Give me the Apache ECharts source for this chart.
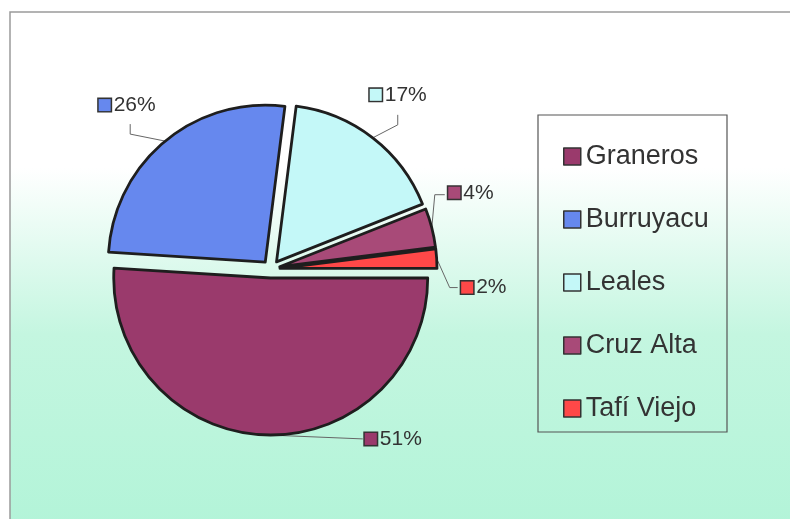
<!DOCTYPE html>
<html>
<head>
<meta charset="utf-8">
<script src="https://cdn.jsdelivr.net/npm/echarts@6/dist/echarts.min.js"></script>
<style>
  html, body { margin: 0; padding: 0; background: #fff; }
  #chart { width: 790px; height: 519px; }
</style>
</head>
<body>
<div id="chart"></div>
<script>
// --- DATA ---
const departments = ["Graneros", "Burruyacu", "Leales", "Cruz Alta", "Tafí Viejo"];
const shares = [51, 26, 17, 4, 2];
const colors = ["#9a3a6c", "#6688ee", "#c4f8f8", "#a84a78", "#ff4848"];

// leader line shape per slice: bend offset from slice edge, then end offset
const bend = [[0, 0], [-35, -7], [25, -13], [3, -33], [13, 29]];
const tail = [[97, 4], [0, -10], [0, -10], [10, 0], [8, 0]];
// label anchor relative to end of leader
const labelShift = [[2, 0, "left"], [-3, -19, "center"], [-1, -20, "center"], [2, -2, "left"], [2, 0, "left"]];

const chart = echarts.init(document.getElementById("chart"));

const rich = { v: { fontSize: 21, color: "#333", fontFamily: "Liberation Sans", padding: [0, 0, 0, 3] } };
colors.forEach((c, i) => {
  rich["s" + i] = { width: 12, height: 12, backgroundColor: c, borderColor: "#333", borderWidth: 1.5 };
});

const option = {
  animation: false,
  graphic: [
    {
      type: "rect",
      z: -10,
      shape: { x: 10, y: 12, width: 800, height: 520 },
      style: {
        fill: new echarts.graphic.LinearGradient(0, 0, 0, 1, [
          { offset: 0, color: "#ffffff" },
          { offset: 0.3, color: "#ffffff" },
          { offset: 0.62, color: "#c4f6e0" },
          { offset: 1, color: "#b2f4d8" },
        ]),
        stroke: "#9a9a9a",
        lineWidth: 1.5,
      },
    },
    {
      type: "rect",
      z: 1,
      shape: { x: 538, y: 115, width: 189, height: 317 },
      style: { fill: "none", stroke: "#555", lineWidth: 1.2 },
    },
  ],
  legend: {
    orient: "vertical",
    left: 558,
    top: 138,
    itemGap: 36,
    icon: "rect",
    itemWidth: 17,
    itemHeight: 17,
    itemStyle: { borderColor: "#333", borderWidth: 1.5 },
    textStyle: { fontSize: 27, lineHeight: 27, color: "#333", fontFamily: "Liberation Sans" },
    selectedMode: false,
    data: departments,
  },
  series: [
    {
      type: "pie",
      center: [271, 269],
      radius: 157,
      startAngle: 0,
      clockwise: true,
      selectedMode: "multiple",
      selectedOffset: 9,
      emphasis: { disabled: true },
      itemStyle: { borderColor: "#1e1e1e", borderWidth: 2.8 },
      label: {
        position: "outside",
        formatter: (p) => `{s${p.dataIndex}|}{v|${p.percent}%}`,
        rich: rich,
      },
      labelLine: { show: true, lineStyle: { color: "#666", width: 1 } },
      labelLayout: (params) => {
        const i = params.dataIndex;
        const p0 = params.labelLinePoints[0];
        const p1 = [p0[0] + bend[i][0], p0[1] + bend[i][1]];
        const p2 = [p1[0] + tail[i][0], p1[1] + tail[i][1]];
        const r = params.labelRect;
        const ax = params.align === "right" ? r.x + r.width : params.align === "center" ? r.x + r.width / 2 : r.x;
        const ay = r.y + r.height / 2;
        return {
          dx: p2[0] + labelShift[i][0] - ax,
          dy: p2[1] + labelShift[i][1] - ay,
          align: labelShift[i][2],
          verticalAlign: "middle",
          labelLinePoints: [p0, p1, p2],
        };
      },
      data: departments.map((name, i) => ({
        name: name,
        value: shares[i],
        selected: true,
        itemStyle: { color: colors[i] },
      })),
    },
  ],
};

chart.setOption(option);
</script>
</body>
</html>
